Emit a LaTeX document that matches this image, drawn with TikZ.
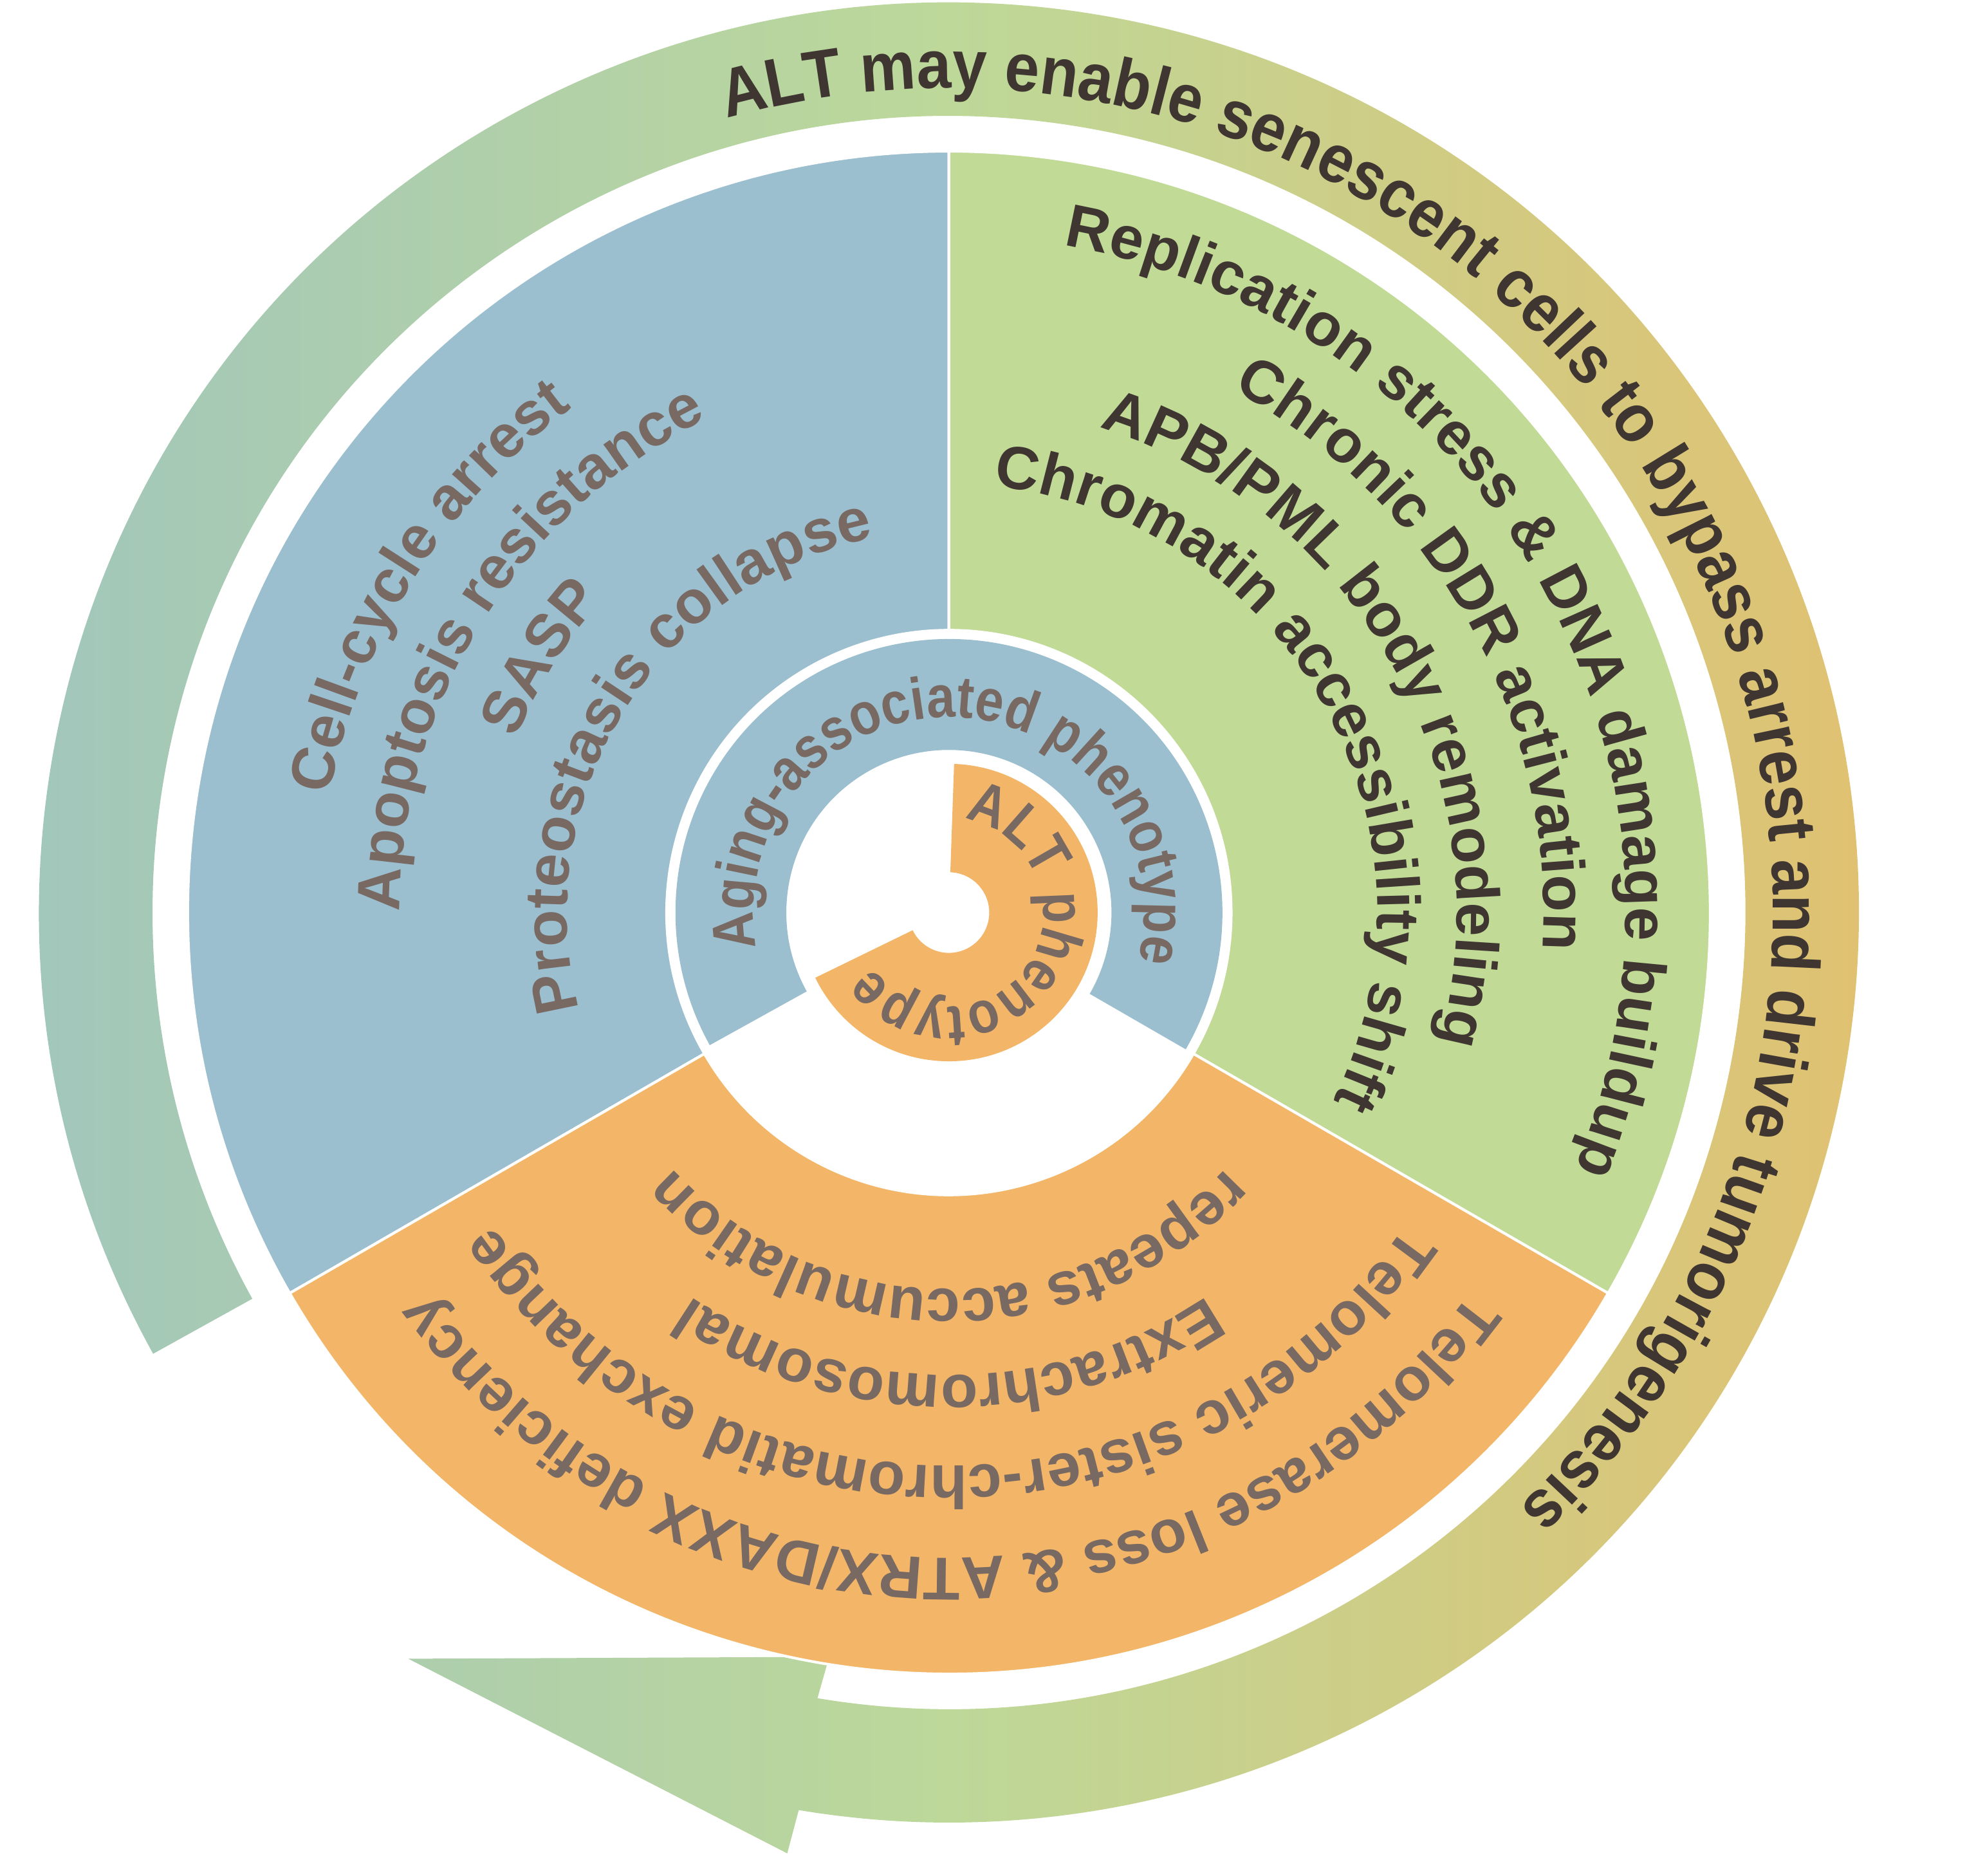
\documentclass[tikz,border=0pt]{standalone}
\usepackage{fontspec}
\setmainfont{Liberation Sans}
\newfontfamily\arcfont[FakeStretch=0.91]{Liberation Sans}
\newfontfamily\innerfont[FakeStretch=0.86]{Liberation Sans}
\usetikzlibrary{decorations.text}
\definecolor{secblue}{RGB}{155,191,207}
\definecolor{secgreen}{RGB}{193,218,150}
\definecolor{secorange}{RGB}{243,182,104}
\definecolor{txtgray}{RGB}{120,105,99}
\definecolor{txtdark}{RGB}{63,54,50}
\definecolor{arrL}{RGB}{158,196,192}
\definecolor{arrM}{RGB}{189,216,153}
\definecolor{arrR}{RGB}{229,190,108}
\newcommand{\ArcText}[5]{%
  \pgfmathsetmacro{\aS}{#2+#3}\pgfmathsetmacro{\aE}{#2-#3}%
  \path[decorate,decoration={text along path,text align=center,text={|#4|#5}}]
    (\aS:#1) arc[start angle=\aS,end angle=\aE,radius=#1];}
\newcommand{\fgray}{\fontsize{13.66}{15}\selectfont\bfseries\color{txtgray}}
\newcommand{\fdark}{\fontsize{13.66}{15}\selectfont\bfseries\color{txtdark}}
\newcommand{\finner}{\innerfont\fontsize{13.4}{15}\selectfont\bfseries\color{txtgray}}
\newcommand{\farrow}{\arcfont\fontsize{15.4}{17}\selectfont\bfseries\color{txtdark}}
\tikzset{
  sector/.style={draw=white,line width=0.6pt},
  ring/.style={draw=none}
}
\begin{document}
\begin{tikzpicture}[x=0.01cm,y=0.01cm]
\useasboundingbox (-753,-764) rectangle (815,724);
\coordinate (C) at (0,0);
% outer circular arrow
\shade[left color=arrL,right color=arrR,middle color=arrM]
  (209:722) arc[start angle=209,end angle=-99.5,radius=722]
  -- (-128.3,-746.4) -- (-429,-592) -- (-95,-590.5)
  -- (-99.5:632) arc[start angle=-99.5,end angle=209,radius=632] -- cycle;
% sectors
\path[sector,fill=secblue] (90:224) -- (90:604) arc[start angle=90,end angle=210,radius=604]
  -- (210:224) arc[start angle=210,end angle=90,radius=224] -- cycle;
\path[sector,fill=secgreen] (-30:224) -- (-30:604) arc[start angle=-30,end angle=90,radius=604]
  -- (90:224) arc[start angle=90,end angle=-30,radius=224] -- cycle;
\path[sector,fill=secorange] (210:224) -- (210:604) arc[start angle=210,end angle=330,radius=604]
  -- (330:224) arc[start angle=330,end angle=210,radius=224] -- cycle;
% inner rings
\path[ring,fill=secblue] (-30:129) -- (-30:217) arc[start angle=-30,end angle=209,radius=217]
  -- (209:129) arc[start angle=209,end angle=-30,radius=129] -- cycle;
\path[ring,fill=secorange] (88:32) -- (88:118) arc[start angle=88,end angle=-154,radius=118]
  -- (-154:32) arc[start angle=-154,end angle=88,radius=32] -- cycle;
% outer text
\ArcText{654}{29.7}{100}{\farrow}{ALT may enable senescent cells to bypass arrest and drive tumorigenesis}
% blue sector
\ArcText{500}{148}{85}{\fgray}{Cell-cycle arrest}
\ArcText{436}{148}{85}{\fgray}{Apoptosis resistance}
\ArcText{370}{148}{85}{\fgray}{SASP}
\ArcText{303}{148}{85}{\fgray}{Proteostasis collapse}
% green sector
\ArcText{537}{29}{85}{\fdark}{Replication stress {\&} DNA damage buildup}
\ArcText{472}{29}{85}{\fdark}{Chronic DDR activation}
\ArcText{403}{29}{85}{\fdark}{APB/PML body remodeling}
\ArcText{340}{29}{85}{\fdark}{Chromatin accessibility shift}
% orange sector
\ArcText{512}{-90}{85}{\fgray}{Telomerase loss {\&} ATRX/DAXX deficiency}
\ArcText{439}{-90}{85}{\fgray}{Telomeric sister-chromatid exchange}
\ArcText{367}{-90}{85}{\fgray}{Extrachromosomal}
\ArcText{299}{-90}{85}{\fgray}{repeats accumulation}
% inner rings text
\ArcText{155}{88}{150}{\finner}{Aging-associated phenotype}
\ArcText{75}{-32}{160}{\finner}{ALT phenotype}
\end{tikzpicture}
\end{document}
